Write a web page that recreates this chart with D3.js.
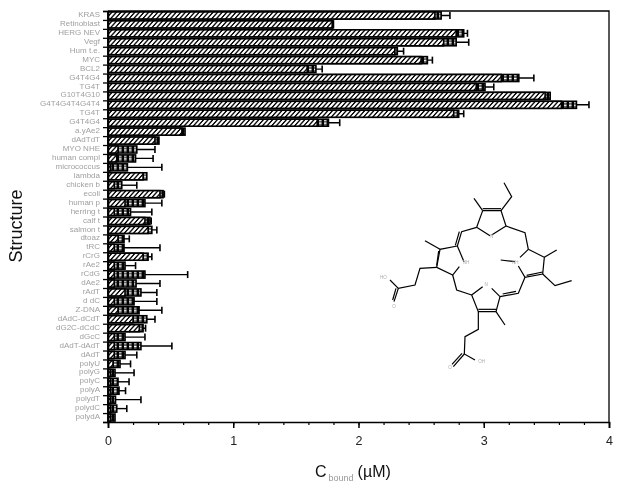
<!DOCTYPE html>
<html>
<head>
<meta charset="utf-8">
<script src="https://cdn.jsdelivr.net/npm/d3@7"></script>
<style>
html, body { margin: 0; padding: 0; background: #fff; }
svg { display: block; filter: blur(0.4px); }
text { font-family: "Liberation Sans", Arial, sans-serif; }
</style>
</head>
<body>
<svg id="chart" width="624" height="496"></svg>
<script>
var structures = ["KRAS", "Retinoblast", "HERG NEV", "Vegf", "Hum t.e.", "MYC", "BCL2", "G4T4G4", "TG4T",
    "G10T4G10", "G4T4G4T4G4T4", "TG4T", "G4T4G4", "a.yAe2", "dAdTdT", "MYO NHE", "human compl", "micrococcus",
    "lambda", "chicken b", "ecoli", "human p", "herring t", "calf t", "salmon t", "dtoaz", "tRC", "rCrG", "rAe2",
    "rCdG", "dAe2", "rAdT", "d dC", "Z-DNA", "dAdC-dCdT", "dG2C-dCdC", "dGcC", "dAdT-dAdT", "dAdT", "polyU",
    "polyG", "polyC", "polyA", "polydT", "polydC", "polydA"];

// hatched bar, dotted bar behind it, error bar end (uM)
var hatchedEnd = [2.61, 1.79, 2.78, 2.68, 2.29, 2.50, 1.59, 3.14, 2.94, 3.49, 3.62, 2.76, 1.67, 0.59, 0.375,
    0.08, 0.07, 0.02, 0.28, 0.05, 0.415, 0.136, 0.05, 0.295, 0.32, 0.08, 0.05, 0.28, 0.05, 0.05, 0.05, 0.136,
    0.05, 0.08, 0.20, 0.25, 0.05, 0.05, 0.05, 0.04, 0.02, 0.02, 0.02, 0.02, 0.02, 0.02];
var dottedEnd = [2.66, 1.80, 2.84, 2.78, 2.31, 2.55, 1.66, 3.28, 3.01, 3.53, 3.74, 2.80, 1.76, 0.615, 0.407,
    0.23, 0.22, 0.155, 0.31, 0.11, 0.44, 0.295, 0.18, 0.335, 0.35, 0.128, 0.128, 0.32, 0.136, 0.295, 0.224,
    0.263, 0.208, 0.248, 0.31, 0.28, 0.136, 0.263, 0.136, 0.096, 0.056, 0.08, 0.088, 0.06, 0.07, 0.056];
var errorEnd = [2.73, null, 2.87, 2.88, 2.36, 2.59, 1.71, 3.40, 3.08, 3.53, 3.84, 2.84, 1.85, null, null,
    0.375, 0.36, 0.43, null, 0.23, 0.45, 0.43, 0.35, 0.345, 0.39, 0.17, 0.415, 0.35, 0.22, 0.636, 0.415,
    0.39, 0.39, 0.43, 0.375, 0.30, 0.295, 0.51, 0.23, 0.18, 0.208, 0.168, 0.14, 0.263, 0.15, null];
var xTicks = [0, 1, 2, 3, 4];
var xMinorTicks = d3.range(0, 21).map(function (d) { return d / 5; });

// porphyrin sketch, bond polylines in the drawing's own units
var moleculeBonds = [
    [[338,122],[393,122],[408,168],[365,195]], [[338,116],[393,116]], [[338,122],[320,172],[360,197]],
    [[338,122],[312,85]], [[393,122],[425,80],[402,38]],
    [[320,172],[275,185],[262,228]], [[268,185],[256,226]], [[408,168],[465,188],[475,238]],
    [[262,228],[210,238],[200,292],[248,315],[268,290]], [[262,228],[282,275]], [[210,238],[165,212]], [[206,243],[200,287]],
    [[200,292],[150,295],[135,345],[85,355],[60,330]], [[85,355],[72,395]], [[78,355],[68,390]],
    [[475,238],[523,262],[518,312],[465,322],[445,288]], [[475,238],[450,262]], [[523,262],[560,240]],
    [[518,312],[555,347],[605,332]], [[470,316],[518,306]], [[435,275],[392,270]],
    [[465,322],[445,370],[390,380]], [[438,364],[398,372]],
    [[390,380],[378,425],[325,425],[305,375],[338,350]], [[390,380],[365,355]], [[378,425],[405,465]], [[325,418],[378,418]],
    [[305,375],[260,360],[248,315]],
    [[325,425],[325,478],[285,500],[283,552],[315,570]], [[283,552],[250,590]], [[276,550],[246,583]]
];
var moleculeLabels = [["HO", 40, 322], ["O", 72, 408], ["OH", 335, 573], ["O", 240, 591], ["NH", 288, 276], ["N", 365, 198], ["N", 348, 344], ["NH", 436, 276]];

var svg = d3.select("#chart");
var margin = { left: 108, right: 15, top: 11, bottom: 74 };
var width = 624 - margin.left - margin.right,
    height = 496 - margin.top - margin.bottom;

var defs = svg.append("defs");
var hatch = defs.append("pattern").attr("id", "hatch")
    .attr("patternUnits", "userSpaceOnUse").attr("width", 4.6).attr("height", 6)
    .attr("patternTransform", "skewX(-42)");
hatch.append("rect").attr("width", 4.6).attr("height", 6).attr("fill", "#000");
hatch.append("rect").attr("x", 0.8).attr("width", 2.8).attr("height", 6).attr("fill", "#fff");

var dots = defs.append("pattern").attr("id", "dots")
    .attr("patternUnits", "userSpaceOnUse").attr("width", 5).attr("height", 3);
dots.append("rect").attr("width", 5).attr("height", 3).attr("fill", "#000");
dots.append("rect").attr("x", 1).attr("y", 0.6).attr("width", 2.6).attr("height", 1.8).attr("fill", "#fff");

var g = svg.append("g").attr("transform", "translate(" + margin.left + "," + margin.top + ")");

var x = d3.scaleLinear().domain([0, 4]).range([0, width]);
var y = d3.scaleBand().domain(d3.range(structures.length)).range([0, height]).paddingInner(0.1).paddingOuter(0.05);
var yEdges = d3.scaleLinear().domain([0, structures.length]).range([0, height]);

var rows = g.selectAll("g.row").data(structures).enter().append("g")
    .attr("class", "row")
    .attr("transform", function (d, i) { return "translate(0," + y(i) + ")"; });

var cy = y.bandwidth() / 2;

// error bars go under the bars so only the part past the bar shows
var errorRows = rows.filter(function (d, i) { return errorEnd[i] != null; });
errorRows.append("line")
    .attr("x1", 0)
    .attr("x2", function () { return x(errorEnd[rows.nodes().indexOf(this.parentNode)]); })
    .attr("y1", cy).attr("y2", cy)
    .attr("stroke", "#000").attr("stroke-width", 1.4);
errorRows.append("line")
    .attr("x1", function () { return x(errorEnd[rows.nodes().indexOf(this.parentNode)]); })
    .attr("x2", function () { return x(errorEnd[rows.nodes().indexOf(this.parentNode)]); })
    .attr("y1", cy - 3.5).attr("y2", cy + 3.5)
    .attr("stroke", "#000").attr("stroke-width", 1.6);

rows.append("rect")
    .attr("x", 0).attr("y", 0.5)
    .attr("width", function (d, i) { return x(dottedEnd[i]); })
    .attr("height", y.bandwidth() - 1)
    .attr("fill", "url(#dots)").attr("stroke", "#000").attr("stroke-width", 1.6);

rows.append("rect")
    .attr("x", 0).attr("y", 0.5)
    .attr("width", function (d, i) { return x(hatchedEnd[i]); })
    .attr("height", y.bandwidth() - 1)
    .attr("fill", "url(#hatch)").attr("stroke", "#000").attr("stroke-width", 1.6);

// frame
g.append("path")
    .attr("d", "M0,0H" + width + "V" + height)
    .attr("fill", "none").attr("stroke", "#000").attr("stroke-width", 1.3);

var xAxis = g.append("g").attr("transform", "translate(0," + height + ")")
    .call(d3.axisBottom(x).tickValues(xTicks).tickFormat(d3.format("d")).tickSize(6).tickPadding(8));
xAxis.selectAll("text").attr("font-size", 12.5).attr("fill", "#222");
xAxis.selectAll("line").attr("stroke-width", 1.5);
xAxis.select(".domain").attr("stroke-width", 1.6);

g.append("g").attr("transform", "translate(0," + height + ")")
    .call(d3.axisBottom(x).tickValues(xMinorTicks).tickFormat("").tickSize(3))
    .call(function (s) { s.select(".domain").remove(); })
    .selectAll("line").attr("stroke-width", 1.2);

var yTicks = g.append("g")
    .call(d3.axisLeft(yEdges).tickValues(d3.range(structures.length + 1)).tickFormat("").tickSize(5));
yTicks.selectAll("line").attr("stroke-width", 1.3);
yTicks.select(".domain").attr("stroke-width", 1.6);

var yLabels = g.append("g")
    .call(d3.axisLeft(y).tickFormat(function (i) { return structures[i]; }).tickSize(0).tickPadding(8));
yLabels.select(".domain").remove();
yLabels.selectAll("text").attr("font-size", 8).attr("fill", "#a0a0a0").attr("dy", "0.2em");

svg.append("text").attr("transform", "translate(22,226) rotate(-90)")
    .attr("text-anchor", "middle").attr("font-size", 18).attr("fill", "#111").text("Structure");

var xTitle = svg.append("text").attr("x", 315).attr("y", 477).attr("font-size", 16).attr("fill", "#111");
xTitle.append("tspan").text("C");
xTitle.append("tspan").attr("font-size", 9).attr("dx", 2).attr("dy", 4).attr("fill", "#999").text("bound");
xTitle.append("tspan").attr("dx", 4).attr("dy", -4).text("(\u00b5M)");

// molecule inset
var mx = d3.scaleLinear().domain([0, 210]).range([370, 440]);
var my = d3.scaleLinear().domain([0, 210]).range([170, 240]);
var bondLine = d3.line().x(function (d) { return mx(d[0]); }).y(function (d) { return my(d[1]); });
svg.append("g").selectAll("path").data(moleculeBonds).enter().append("path")
    .attr("d", bondLine).attr("fill", "none").attr("stroke", "#000").attr("stroke-width", 1.2);
svg.append("g").selectAll("text").data(moleculeLabels).enter().append("text")
    .attr("x", function (d) { return mx(d[1]); }).attr("y", function (d) { return my(d[2]); })
    .attr("text-anchor", "middle").attr("dy", "0.35em")
    .attr("font-size", 4.5).attr("fill", "#aaa")
    .text(function (d) { return d[0]; });
</script>
</body>
</html>
